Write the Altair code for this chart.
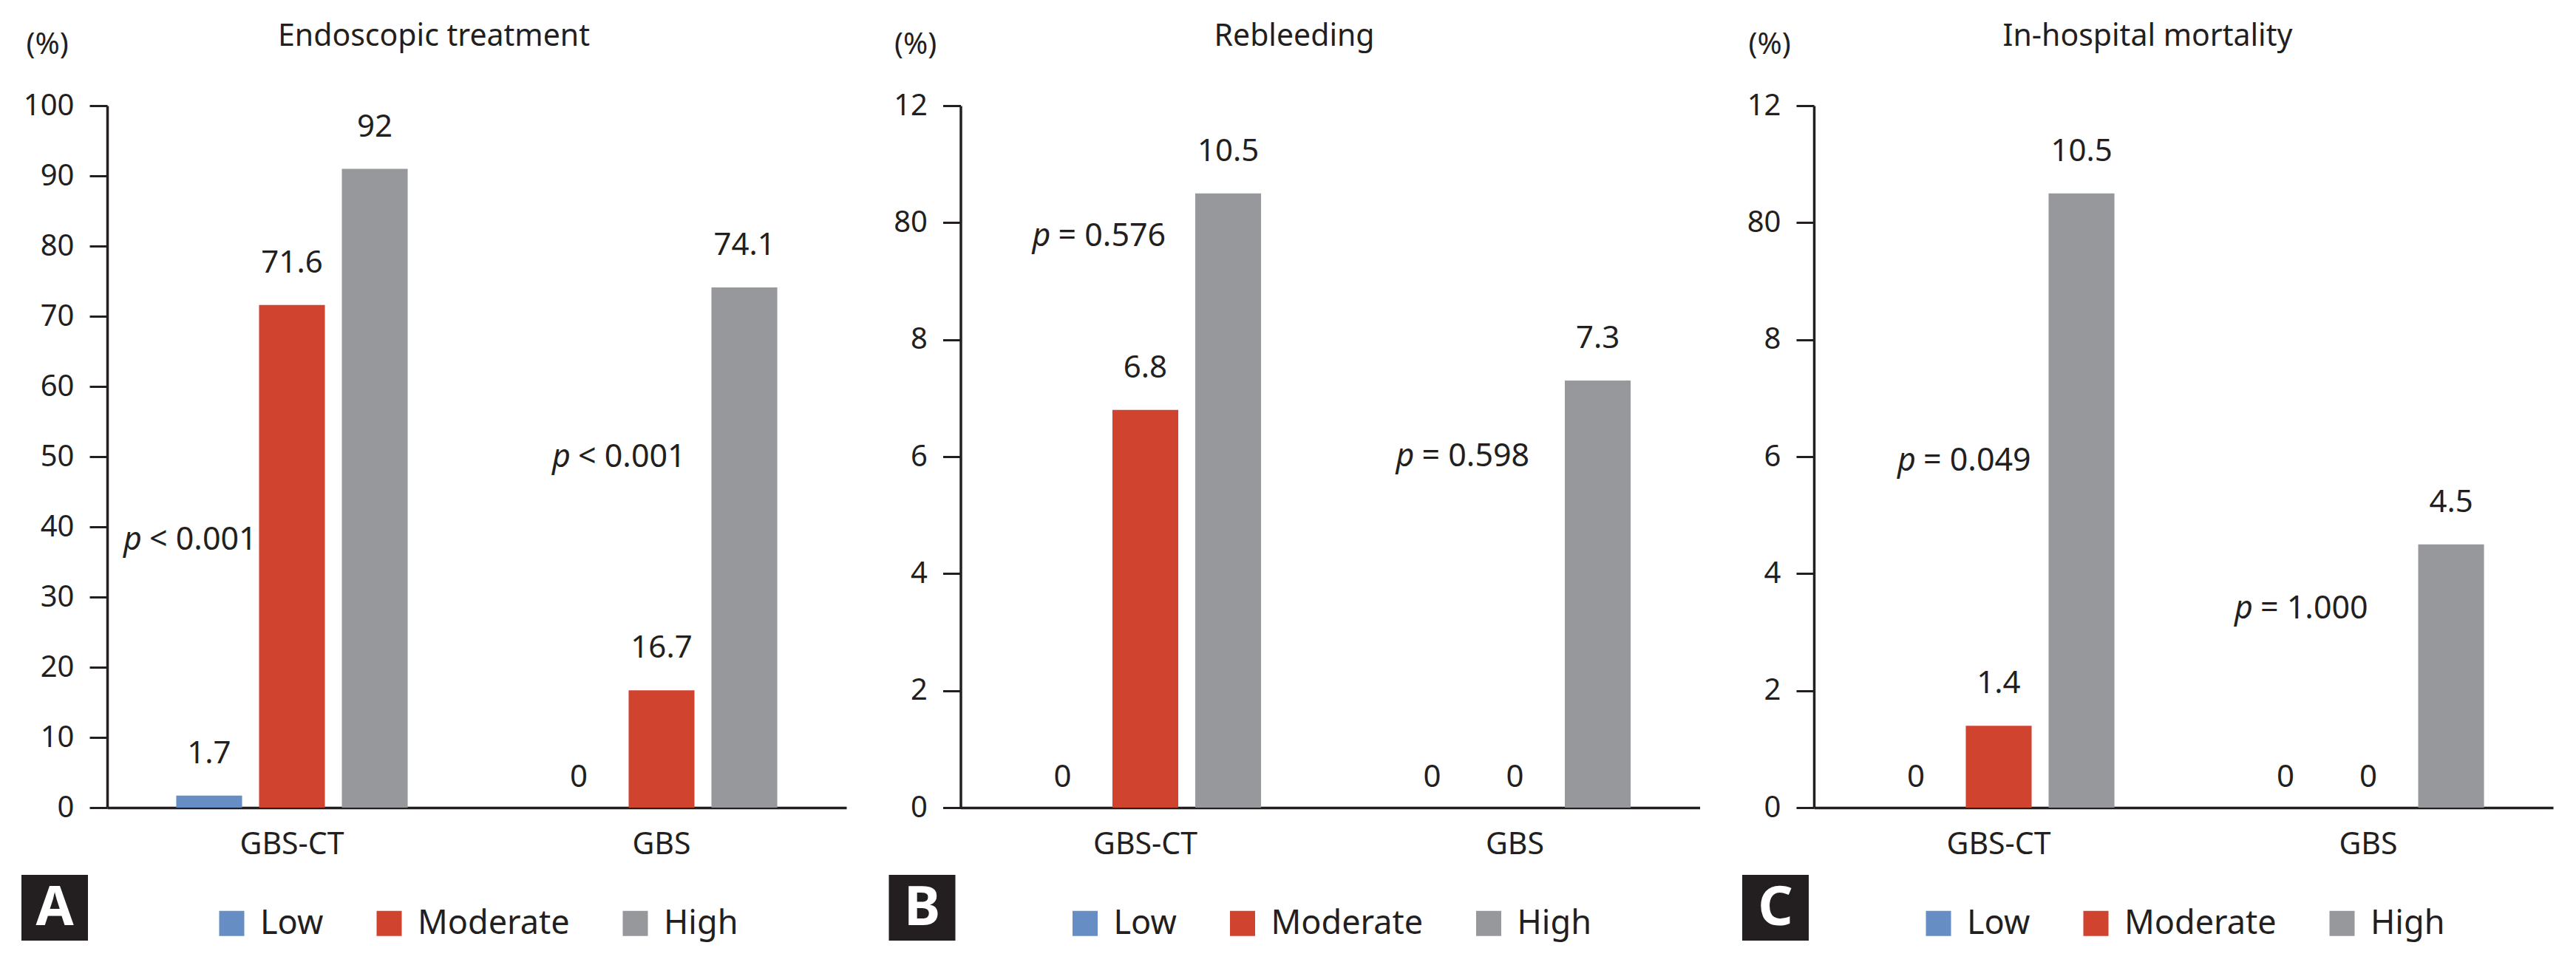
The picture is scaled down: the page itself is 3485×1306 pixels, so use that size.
import altair as alt
import pandas as pd

FONT = "Noto Sans"
INK = "#231f20"

GROUPS = ["GBS-CT", "GBS"]
LEVELS = ["Low", "Moderate", "High"]
COLORS = ["#668dc4", "#d0432f", "#97989c"]

TITLES = ["Endoscopic treatment", "Rebleeding", "In-hospital mortality"]
LETTERS = ["A", "B", "C"]

# bar heights as drawn (GBS-CT: Low, Moderate, High, then GBS: Low, Moderate, High)
A_VALUES = [1.7, 71.6, 91.0, 0.0, 16.7, 74.1]
A_LABELS = ["1.7", "71.6", "92", "0", "16.7", "74.1"]
B_VALUES = [0.0, 6.8, 10.5, 0.0, 0.0, 7.3]
B_LABELS = ["0", "6.8", "10.5", "0", "0", "7.3"]
C_VALUES = [0.0, 1.4, 10.5, 0.0, 0.0, 4.5]
C_LABELS = ["0", "1.4", "10.5", "0", "0", "4.5"]

A_TICKS = [0, 10, 20, 30, 40, 50, 60, 70, 80, 90, 100]
A_TICK_LABELS = ["0", "10", "20", "30", "40", "50", "60", "70", "80", "90", "100"]
BC_TICKS = [0, 2, 4, 6, 8, 10, 12]
BC_TICK_LABELS = ["0", "2", "4", "6", "8", "80", "12"]

A_PTEXT = ["< 0.001", "< 0.001"]
B_PTEXT = ["= 0.576", "= 0.598"]
C_PTEXT = ["= 0.049", "= 1.000"]

# annotation placement (y in data units, dx in px from group centre)
A_PLAYOUT = [(38.1, -228), (49.9, -148)]
B_PLAYOUT = [(9.77, -153), (6.0, -161)]
C_PLAYOUT = [(5.92, -137), (3.4, -181)]

W, H = 1000, 950


def label_expr(ticks, labels):
    t = ",".join(str(v) for v in ticks)
    l = ",".join("'" + s + "'" for s in labels)
    return f"[{l}][indexof([{t}], datum.value)]"


def panel(i, values, labels, ticks, tick_labels, ymax, ptexts, playout,
          title_x, box_x):
    df = pd.DataFrame({
        "group": [g for g in GROUPS for _ in LEVELS],
        "level": LEVELS * 2,
        "value": values,
        "label": labels,
    })

    xaxis = alt.Axis(title=None, labelAngle=0, ticks=False, labelPadding=30,
                     labelFontSize=41, labelFont=FONT, labelColor=INK,
                     domainWidth=3.5, domainColor=INK)
    x = alt.X("group:N", sort=GROUPS,
              scale=alt.Scale(domain=GROUPS, paddingInner=0, paddingOuter=0),
              axis=xaxis)
    xo = alt.XOffset("level:N", sort=LEVELS,
                     scale=alt.Scale(domain=LEVELS, paddingInner=0.205,
                                     paddingOuter=0.834))

    yaxis = alt.Axis(values=ticks, labelExpr=label_expr(ticks, tick_labels),
                     title="(%)", titleAngle=0, titleAlign="left",
                     titleBaseline="middle", titleX=title_x, titleY=-83,
                     titleFontSize=40, titleFontWeight="normal",
                     titleFont=FONT, titleColor=INK,
                     tickSize=24, tickWidth=3, tickColor=INK,
                     domainWidth=3.5, domainColor=INK,
                     labelPadding=21, labelFontSize=40, labelFont=FONT,
                     labelColor=INK, grid=False)
    yscale = alt.Scale(domain=[0, ymax], nice=False, zero=True)

    def y(field):
        return alt.Y(field, type="quantitative", scale=yscale, axis=yaxis)

    legend = alt.Legend(orient="none", legendX=146, legendY=1084,
                        direction="horizontal", title=None,
                        symbolType="square", symbolSize=1156,
                        symbolStrokeWidth=0, symbolOpacity=1,
                        labelFontSize=45, labelFont=FONT, labelColor=INK,
                        labelOffset=16, columnPadding=66, labelLimit=0)
    color = alt.Color("level:N", sort=LEVELS,
                      scale=alt.Scale(domain=LEVELS, range=COLORS),
                      legend=legend)

    base = alt.Chart(df)
    bars = base.mark_bar().encode(x=x, xOffset=xo, y=y("value"), color=color)
    lab_nz = base.transform_filter("datum.value > 0").mark_text(
        dy=-44, baseline="alphabetic", fontSize=42, font=FONT, color=INK
    ).encode(x=x, xOffset=xo, y=y("value"), text="label:N")
    lab_z = base.transform_filter("datum.value == 0").mark_text(
        dy=-28, baseline="alphabetic", fontSize=42, font=FONT, color=INK
    ).encode(x=x, xOffset=xo, y=y("value"), text="label:N")

    layers = [bars, lab_nz, lab_z]

    for g, pt, (py, dx) in zip(GROUPS, ptexts, playout):
        pdf = pd.DataFrame({"group": [g], "ptext": [pt], "py": [py]})
        pc = alt.Chart(pdf)
        layers.append(pc.mark_text(
            align="left", baseline="middle", dx=dx, fontSize=43,
            font=FONT, fontStyle="italic", color=INK, text="p"
        ).encode(x=x, y=y("py")))
        layers.append(pc.mark_text(
            align="left", baseline="middle", dx=dx + 35, fontSize=43,
            font=FONT, color=INK
        ).encode(x=x, y=y("py"), text="ptext:N"))

    box_data = alt.Data(values=[{"letter": LETTERS[i]}])
    box = alt.Chart(box_data).mark_rect(color=INK).encode(
        x=alt.value(box_x), x2=alt.value(box_x + 90),
        y=alt.value(1041), y2=alt.value(1130))
    letter = alt.Chart(box_data).mark_text(
        color="white", fontSize=74, fontWeight="bold", font=FONT,
        align="center", baseline="middle"
    ).encode(x=alt.value(box_x + 45), y=alt.value(1087), text="letter:N")
    layers += [box, letter]

    return alt.layer(*layers).properties(
        width=W, height=H,
        title=alt.TitleParams(TITLES[i], fontSize=41, font=FONT,
                              fontWeight="normal", color=INK,
                              anchor="middle", frame="bounds", dy=35),
    )


pA = panel(0, A_VALUES, A_LABELS, A_TICKS, A_TICK_LABELS, 100,
           A_PTEXT, A_PLAYOUT, -110, -116)
pB = panel(1, B_VALUES, B_LABELS, BC_TICKS, BC_TICK_LABELS, 12,
           B_PTEXT, B_PLAYOUT, -90, -97)
pC = panel(2, C_VALUES, C_LABELS, BC_TICKS, BC_TICK_LABELS, 12,
           C_PTEXT, C_PLAYOUT, -89, -97)

chart = alt.hconcat(pA, pB, pC, spacing=154.5, bounds="flush").resolve_scale(
    color="independent", x="independent", y="independent"
).resolve_legend(color="independent").configure_view(stroke=None).properties(
    padding={"left": 21, "top": 21, "right": 5, "bottom": 5}
)

chart.save("out.html", embed_options={"renderer": "svg", "actions": False})
